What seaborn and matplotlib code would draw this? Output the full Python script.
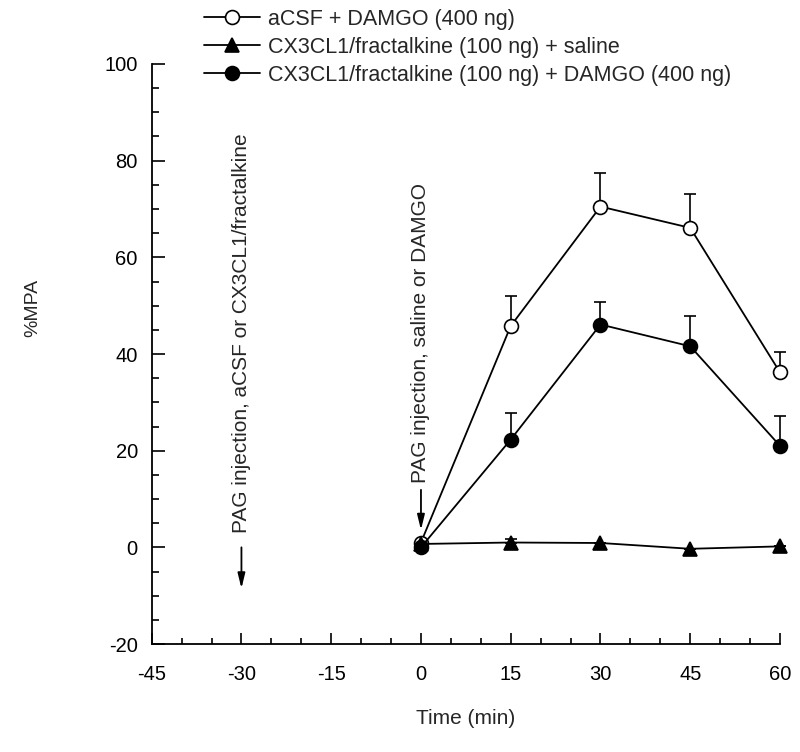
import numpy as np
import matplotlib
matplotlib.use('Agg')
import matplotlib.pyplot as plt
from matplotlib.ticker import MultipleLocator
import seaborn as sns

# time points (min) and group means / upper SEM
time_min = [0, 15, 30, 45, 60]

acsf_damgo = [1.0, 45.8, 70.5, 66.1, 36.2]
acsf_damgo_err = [0.0, 6.2, 7.0, 7.1, 4.3]

fkn_saline = [0.7, 1.0, 0.9, -0.3, 0.2]
fkn_saline_err = [0.0, 0.8, 0.0, 0.0, 0.0]

fkn_damgo = [0.0, 22.3, 46.1, 41.6, 21.0]
fkn_damgo_err = [0.0, 5.4, 4.7, 6.2, 6.2]

labels = ['aCSF + DAMGO (400 ng)',
          'CX3CL1/fractalkine (100 ng) + saline',
          'CX3CL1/fractalkine (100 ng) + DAMGO (400 ng)']

sns.set_style('ticks')
plt.rcParams['font.family'] = ['Liberation Sans', 'DejaVu Sans']
plt.rcParams['axes.unicode_minus'] = False

fig = plt.figure(figsize=(8, 7.52), dpi=100)
ax = fig.add_axes([0.1896, 0.1436, 0.7854, 0.7713])

series = [
    (acsf_damgo, acsf_damgo_err, 'o', 'white', labels[0]),
    (fkn_saline, fkn_saline_err, '^', 'black', labels[1]),
    (fkn_damgo, fkn_damgo_err, 'o', 'black', labels[2]),
]

for vals, err, mk, face, lab in series:
    ax.errorbar(time_min, vals, yerr=[np.zeros(len(err)), err], fmt='none',
                ecolor='black', elinewidth=1.2, capsize=4, capthick=1.2,
                zorder=2, clip_on=False)
    sns.lineplot(x=time_min, y=vals, ax=ax, color='black', linewidth=1.3,
                 marker=mk, markersize=10, markerfacecolor=face,
                 markeredgecolor='black', markeredgewidth=1.2,
                 label=lab, zorder=3, clip_on=False)

if ax.get_legend() is not None:
    ax.get_legend().remove()

ax.set_xlim(-45, 60)
ax.set_ylim(-20, 100)
ax.set_xticks(range(-45, 61, 15))
ax.set_yticks(range(-20, 101, 20))
ax.xaxis.set_minor_locator(MultipleLocator(5))
ax.yaxis.set_minor_locator(MultipleLocator(5))
ax.tick_params(which='both', direction='in', width=1.2, color='black',
               labelsize=14.5, labelcolor='black')
ax.tick_params(axis='y', which='major', length=9, pad=10)
ax.tick_params(axis='y', which='minor', length=5)
ax.tick_params(axis='x', which='major', length=8, pad=15)
ax.tick_params(axis='x', which='minor', length=4)
for s in ['top', 'right']:
    ax.spines[s].set_visible(False)
for s in ['left', 'bottom']:
    ax.spines[s].set_linewidth(1.3)
    ax.spines[s].set_color('black')

ax.set_xlabel('Time (min)', fontsize=15, labelpad=18)
ax.set_ylabel('%MPA', fontsize=14)
ax.yaxis.set_label_coords(-0.176, 0.58)

# injection annotations
arrow = dict(arrowstyle='-|>,head_length=0.9,head_width=0.22', color='black',
             lw=1.3, shrinkA=0, shrinkB=0)
ax.annotate('', xy=(-30, -8.5), xytext=(-30, 0), arrowprops=arrow)
ax.text(-30, 3, 'PAG injection, aCSF or CX3CL1/fractalkine', rotation=90,
        ha='center', va='bottom', fontsize=15)
ax.annotate('', xy=(0, 3.6), xytext=(0, 11.9), arrowprops=arrow)
ax.text(0, 13.4, 'PAG injection, saline or DAMGO', rotation=90,
        ha='center', va='bottom', fontsize=15)

handles, labs = ax.get_legend_handles_labels()
fig.legend(handles, labs, loc='upper left', bbox_to_anchor=(0.255, 0.988),
           frameon=False, fontsize=15.5, handlelength=2.6, handletextpad=0.37,
           labelspacing=0.32, borderpad=0, borderaxespad=0)

fig.savefig('out.png', dpi=100)
